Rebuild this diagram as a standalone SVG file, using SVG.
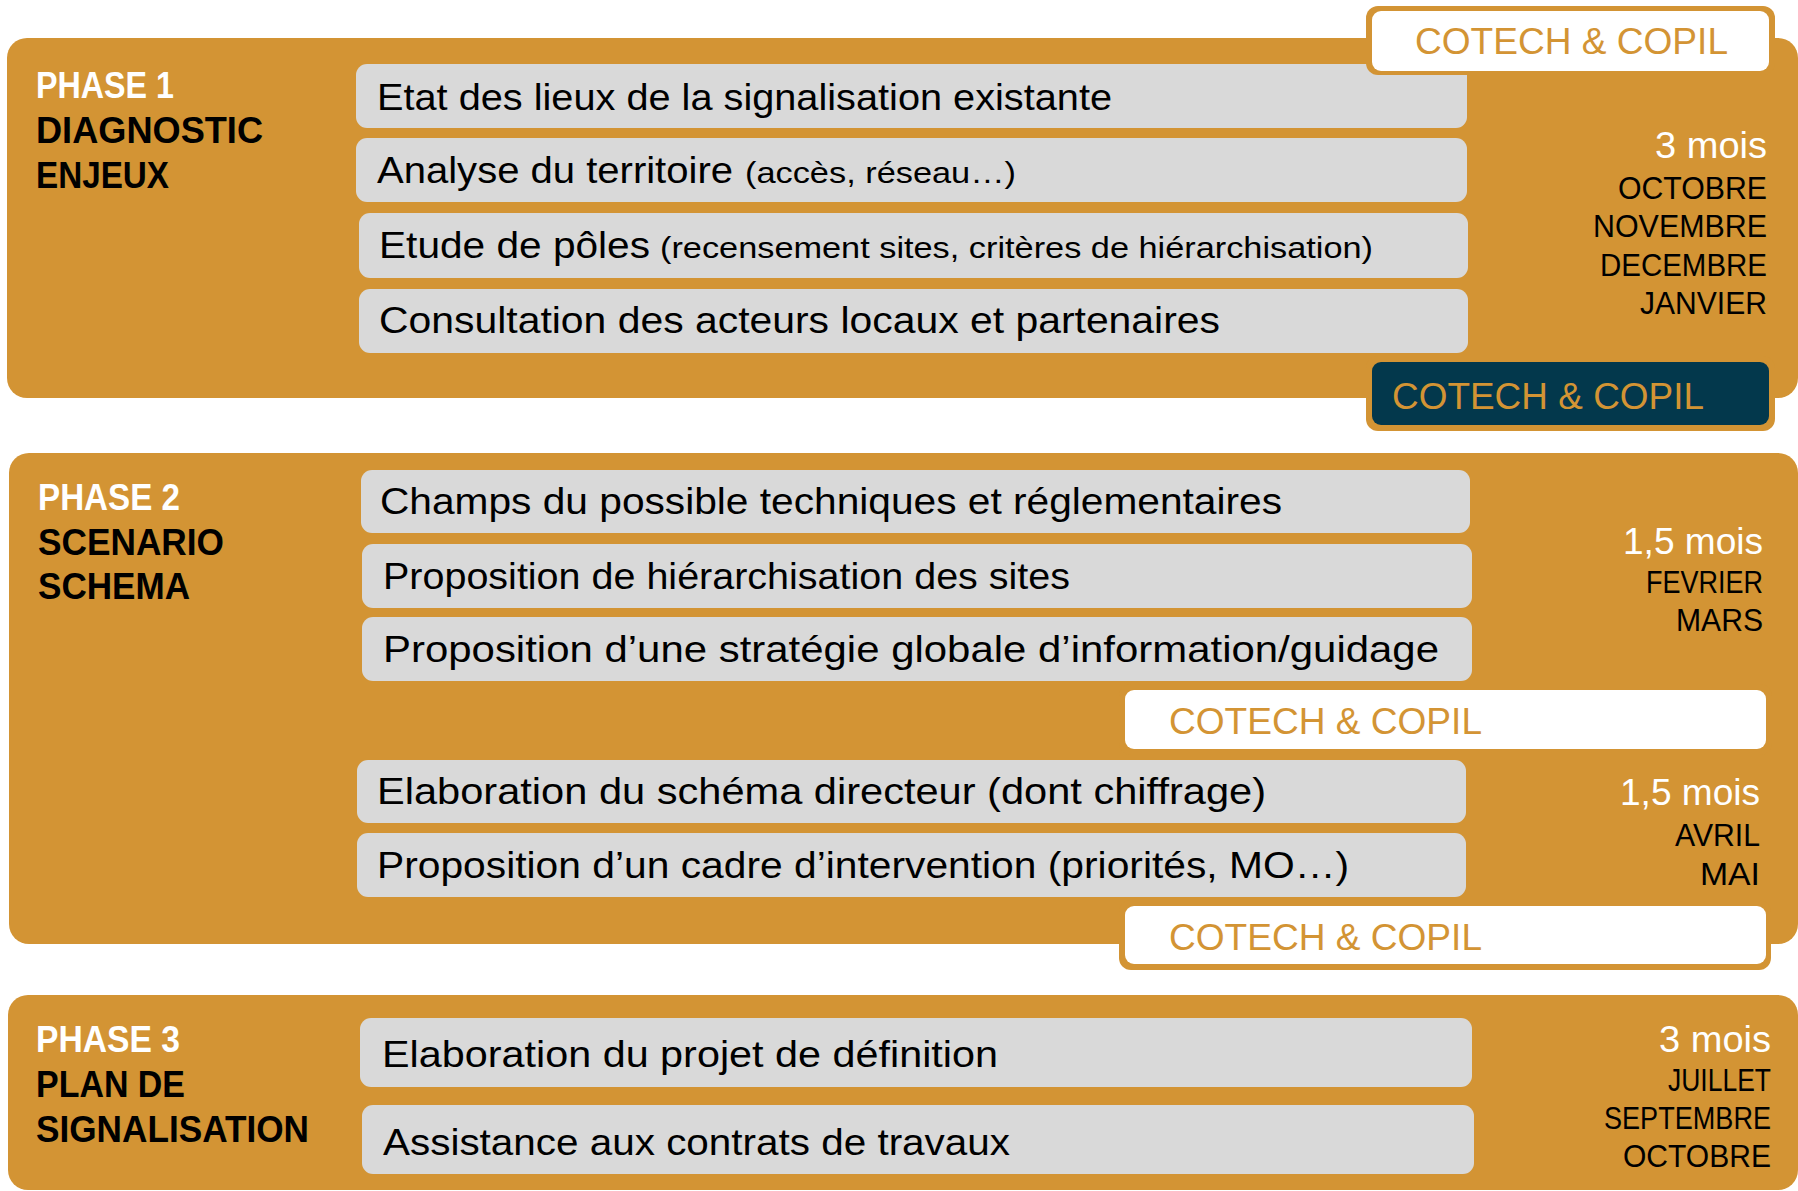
<svg xmlns="http://www.w3.org/2000/svg" width="1798" height="1191" viewBox="0 0 1798 1191">
<style>
.panel{fill:#D39434}
.task{fill:#D9D9D9}
.t{font-family:"Liberation Sans",Arial,sans-serif;font-size:37px;fill:#000}
.ts{font-family:"Liberation Sans",Arial,sans-serif;font-size:30px;fill:#000}
.lbl{font-family:"Liberation Sans",Arial,sans-serif;font-size:37px;font-weight:bold;fill:#000}
.ph{fill:#fff}
.dur{font-family:"Liberation Sans",Arial,sans-serif;font-size:36px;fill:#fff}
.mon{font-family:"Liberation Sans",Arial,sans-serif;font-size:32px;fill:#000}
.cot{font-family:"Liberation Sans",Arial,sans-serif;font-size:37px;fill:#D39434}
.cwo{fill:#D39434}
.cw{fill:#fff}
.cn{fill:#03384C}
</style>
<rect width="1798" height="1191" fill="#fff"/>

<g id="phase1">
  <rect class="panel" x="7" y="38" width="1791" height="360" rx="20"/>
  <text class="lbl ph" x="36" y="98" textLength="138" lengthAdjust="spacingAndGlyphs">PHASE 1</text>
  <text class="lbl" x="36" y="143" textLength="227" lengthAdjust="spacingAndGlyphs">DIAGNOSTIC</text>
  <text class="lbl" x="36" y="188" textLength="133" lengthAdjust="spacingAndGlyphs">ENJEUX</text>
  <g id="p1-t1"><rect class="task" x="356" y="64" width="1111" height="64" rx="11"/>
    <text class="t" x="377" y="110" textLength="735" lengthAdjust="spacingAndGlyphs">Etat des lieux de la signalisation existante</text></g>
  <g id="p1-t2"><rect class="task" x="356" y="138" width="1111" height="64" rx="11"/>
    <text class="t" x="377" y="183" textLength="356" lengthAdjust="spacingAndGlyphs">Analyse du territoire</text>
    <text class="ts" x="745" y="183" textLength="271" lengthAdjust="spacingAndGlyphs">(accès, réseau…)</text></g>
  <g id="p1-t3"><rect class="task" x="359" y="213" width="1109" height="65" rx="11"/>
    <text class="t" x="379" y="258" textLength="271" lengthAdjust="spacingAndGlyphs">Etude de pôles</text>
    <text class="ts" x="660" y="258" textLength="713" lengthAdjust="spacingAndGlyphs">(recensement sites, critères de hiérarchisation)</text></g>
  <g id="p1-t4"><rect class="task" x="359" y="289" width="1109" height="64" rx="11"/>
    <text class="t" x="379" y="333" textLength="841" lengthAdjust="spacingAndGlyphs">Consultation des acteurs locaux et partenaires</text></g>
  <text class="dur" x="1655" y="158" textLength="112" lengthAdjust="spacingAndGlyphs">3 mois</text>
  <text class="mon" x="1618" y="199" textLength="149" lengthAdjust="spacingAndGlyphs">OCTOBRE</text>
  <text class="mon" x="1593" y="237" textLength="174" lengthAdjust="spacingAndGlyphs">NOVEMBRE</text>
  <text class="mon" x="1600" y="276" textLength="167" lengthAdjust="spacingAndGlyphs">DECEMBRE</text>
  <text class="mon" x="1640" y="314" textLength="127" lengthAdjust="spacingAndGlyphs">JANVIER</text>
</g>

<g id="cotech1">
  <rect class="cwo" x="1366" y="6" width="409" height="69" rx="12"/>
  <rect class="cw" x="1372" y="11" width="397" height="60" rx="9"/>
  <text class="cot" x="1415" y="54" textLength="313" lengthAdjust="spacingAndGlyphs">COTECH &amp; COPIL</text>
</g>

<g id="cotech2">
  <rect class="cwo" x="1366" y="356" width="409" height="75" rx="12"/>
  <rect class="cn" x="1372" y="362" width="397" height="63" rx="9"/>
  <text class="cot" x="1392" y="409" textLength="312" lengthAdjust="spacingAndGlyphs">COTECH &amp; COPIL</text>
</g>

<g id="phase2">
  <rect class="panel" x="9" y="453" width="1789" height="491" rx="20"/>
  <text class="lbl ph" x="38" y="510" textLength="142" lengthAdjust="spacingAndGlyphs">PHASE 2</text>
  <text class="lbl" x="38" y="555" textLength="186" lengthAdjust="spacingAndGlyphs">SCENARIO</text>
  <text class="lbl" x="38" y="599" textLength="152" lengthAdjust="spacingAndGlyphs">SCHEMA</text>
  <g id="p2-t1"><rect class="task" x="361" y="470" width="1109" height="63" rx="11"/>
    <text class="t" x="380" y="514" textLength="902" lengthAdjust="spacingAndGlyphs">Champs du possible techniques et réglementaires</text></g>
  <g id="p2-t2"><rect class="task" x="362" y="544" width="1110" height="64" rx="11"/>
    <text class="t" x="383" y="589" textLength="687" lengthAdjust="spacingAndGlyphs">Proposition de hiérarchisation des sites</text></g>
  <g id="p2-t3"><rect class="task" x="362" y="617" width="1110" height="64" rx="11"/>
    <text class="t" x="383" y="662" textLength="1056" lengthAdjust="spacingAndGlyphs">Proposition d’une stratégie globale d’information/guidage</text></g>
  <g id="p2-t4"><rect class="task" x="357" y="760" width="1109" height="63" rx="11"/>
    <text class="t" x="377" y="804" textLength="889" lengthAdjust="spacingAndGlyphs">Elaboration du schéma directeur (dont chiffrage)</text></g>
  <g id="p2-t5"><rect class="task" x="357" y="833" width="1109" height="64" rx="11"/>
    <text class="t" x="377" y="878" textLength="972" lengthAdjust="spacingAndGlyphs">Proposition d’un cadre d’intervention (priorités, MO…)</text></g>
  <text class="dur" x="1623" y="554" textLength="140" lengthAdjust="spacingAndGlyphs">1,5 mois</text>
  <text class="mon" x="1646" y="593" textLength="117" lengthAdjust="spacingAndGlyphs">FEVRIER</text>
  <text class="mon" x="1676" y="631" textLength="87" lengthAdjust="spacingAndGlyphs">MARS</text>
  <text class="dur" x="1620" y="805" textLength="140" lengthAdjust="spacingAndGlyphs">1,5 mois</text>
  <text class="mon" x="1675" y="846" textLength="85" lengthAdjust="spacingAndGlyphs">AVRIL</text>
  <text class="mon" x="1700" y="885" textLength="60" lengthAdjust="spacingAndGlyphs">MAI</text>
</g>

<g id="cotech3">
  <rect class="cwo" x="1119" y="684" width="653" height="71" rx="12"/>
  <rect class="cw" x="1125" y="690" width="641" height="59" rx="9"/>
  <text class="cot" x="1169" y="734" textLength="313" lengthAdjust="spacingAndGlyphs">COTECH &amp; COPIL</text>
</g>

<g id="cotech4">
  <rect class="cwo" x="1119" y="900" width="652" height="70" rx="12"/>
  <rect class="cw" x="1125" y="906" width="641" height="58" rx="9"/>
  <text class="cot" x="1169" y="950" textLength="313" lengthAdjust="spacingAndGlyphs">COTECH &amp; COPIL</text>
</g>

<g id="phase3">
  <rect class="panel" x="8" y="995" width="1790" height="195" rx="20"/>
  <text class="lbl ph" x="36" y="1052" textLength="144" lengthAdjust="spacingAndGlyphs">PHASE 3</text>
  <text class="lbl" x="36" y="1097" textLength="149" lengthAdjust="spacingAndGlyphs">PLAN DE</text>
  <text class="lbl" x="36" y="1142" textLength="273" lengthAdjust="spacingAndGlyphs">SIGNALISATION</text>
  <g id="p3-t1"><rect class="task" x="360" y="1018" width="1112" height="69" rx="11"/>
    <text class="t" x="382" y="1067" textLength="616" lengthAdjust="spacingAndGlyphs">Elaboration du projet de définition</text></g>
  <g id="p3-t2"><rect class="task" x="362" y="1105" width="1112" height="69" rx="11"/>
    <text class="t" x="383" y="1155" textLength="627" lengthAdjust="spacingAndGlyphs">Assistance aux contrats de travaux</text></g>
  <text class="dur" x="1659" y="1052" textLength="112" lengthAdjust="spacingAndGlyphs">3 mois</text>
  <text class="mon" x="1668" y="1091" textLength="103" lengthAdjust="spacingAndGlyphs">JUILLET</text>
  <text class="mon" x="1604" y="1129" textLength="167" lengthAdjust="spacingAndGlyphs">SEPTEMBRE</text>
  <text class="mon" x="1623" y="1167" textLength="148" lengthAdjust="spacingAndGlyphs">OCTOBRE</text>
</g>
</svg>
